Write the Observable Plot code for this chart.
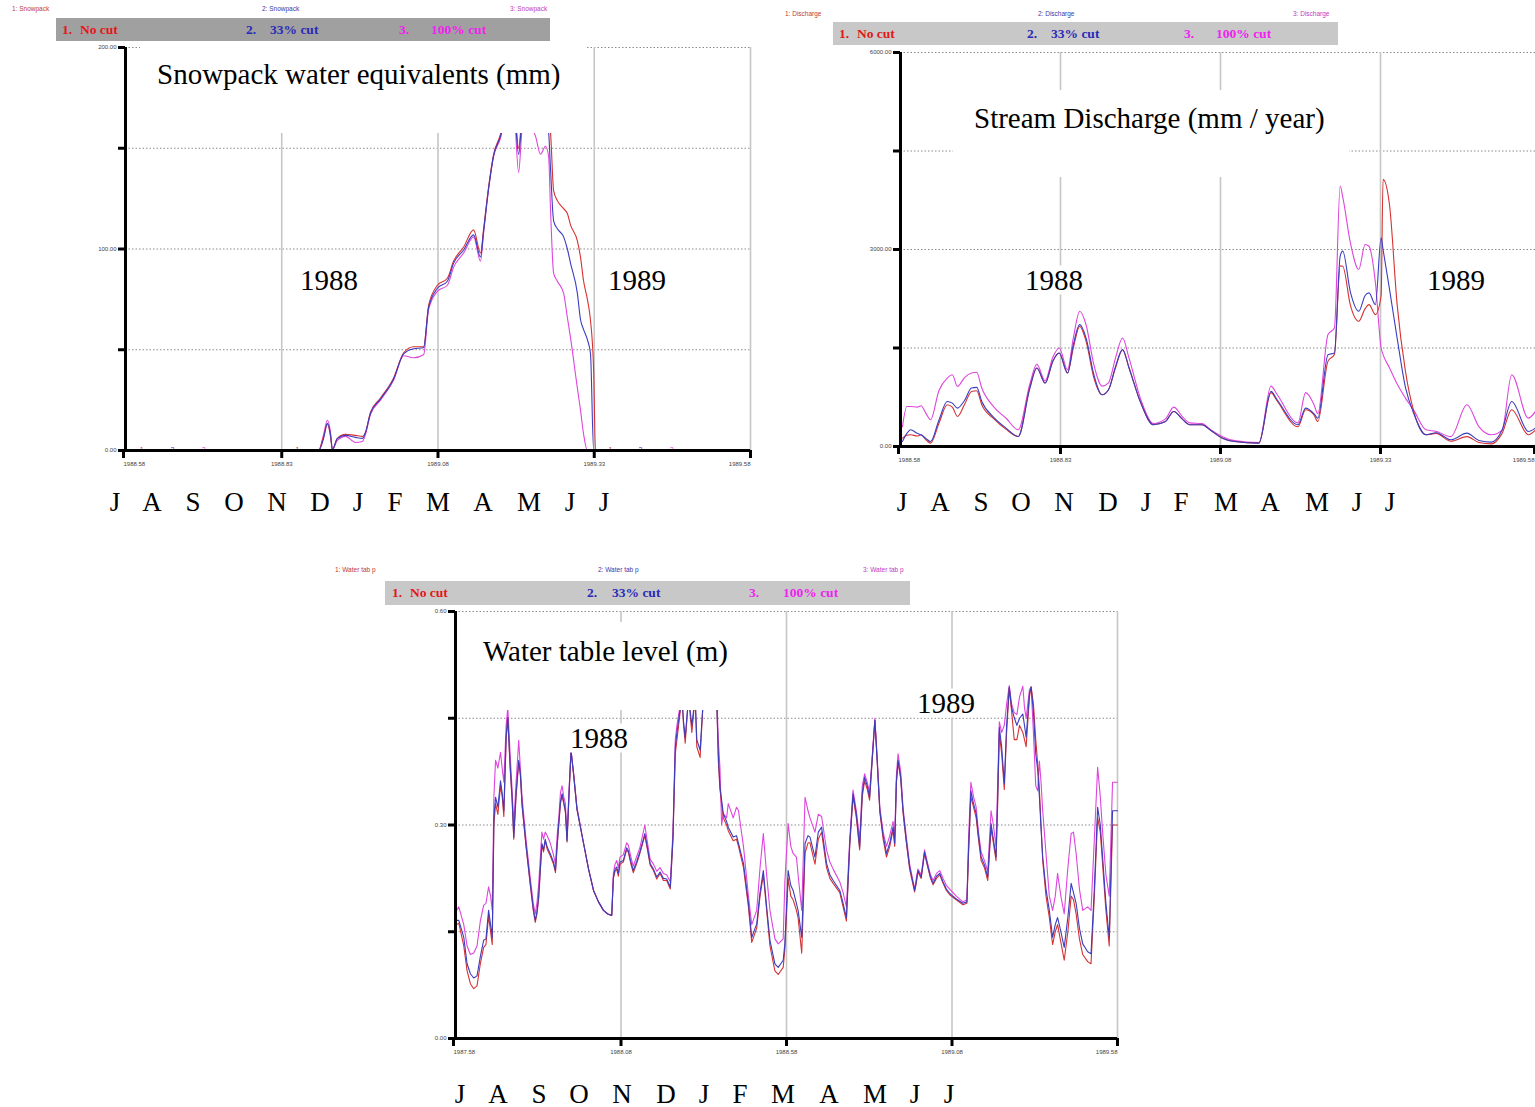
<!DOCTYPE html>
<html><head><meta charset="utf-8">
<script src="https://cdn.jsdelivr.net/npm/d3@7"></script>
<script src="https://cdn.jsdelivr.net/npm/@observablehq/plot@0.6"></script>
<style>
html,body{margin:0;padding:0;background:#fff;overflow:hidden;}
body{width:1535px;height:1107px;position:relative;font-family:"Liberation Serif","Times New Roman",serif;}
.panel{position:absolute;}
.panel svg{max-width:none !important;}
.bar{position:absolute;}
.mini{position:absolute;font-family:"Liberation Sans",Arial,sans-serif;font-size:6.5px;line-height:1;transform:translateY(-50%);white-space:pre;}
.mask{position:absolute;background:#fff;}
.title{position:absolute;font-size:29px;line-height:1;transform:translateY(-50%);white-space:pre;color:#000;}
.year{position:absolute;background:#fff;font-size:29px;line-height:1;transform:translateY(-50%);color:#000;}
.month{position:absolute;font-size:27px;line-height:1;transform:translate(-50%,-50%);color:#000;}
</style></head><body>
<script>
// ---------------- DATA ----------------
const seriesKeys = ["1", "2", "3"];
const legendNums = ["1.", "2.", "3."];
const legendNames = ["No cut", "33% cut", "100% cut"];
const months = ["J","A","S","O","N","D","J","F","M","A","M","J","J"];

// Snowpack water equivalents (mm)
const snowXTicks = [1988.58, 1988.83, 1989.08, 1989.33, 1989.58];
const snowYTicks = [0, 50, 100, 150, 200];
const snowYLabels = [0, 100, 200];
const snowTime = [1988.580,1988.889,1988.897,1988.903,1988.908,1988.911,1988.919,1988.932,1988.948,1988.959,1988.964,1988.972,1988.988,1989.009,1989.025,1989.041,1989.057,1989.065,1989.079,1989.095,1989.105,1989.121,1989.137,1989.148,1989.153,1989.161,1989.169,1989.180,1989.188,1989.201,1989.209,1989.215,1989.225,1989.236,1989.244,1989.252,1989.257,1989.260,1989.265,1989.271,1989.281,1989.287,1989.292,1989.303,1989.308,1989.313,1989.319,1989.324,1989.329,1989.332,1989.580];
const snowNoCut = [0,0,7,13,7,0.5,6,8,7.5,7,9,19,26,36,48.5,51.5,51.5,72,82,85.5,94,101,109.5,98,110,131,147,157,168,174,150,168,176,175,172,170,165,158,129,124,120,117.6,112,104,96,84,75,64.5,40,0,0];
const snow33   = [0,0,6,13.5,8,0.5,6,7.5,6.5,6,9,18.5,25.5,35.5,48,50.5,51,71,80.5,84,93,99.5,107,96,109,130,146.5,156,167,172,147,166,174,172,170,166,158,140,114,110,106,100,93,78,65,60,55,48,0,0,0];
const snow100  = [0,0,8,15,9,0.5,5,7,4,4.5,8,18,25,35,47,46,47.5,70,79,82,91,98,106,94,108,130,146,155,166,170,138,160,162,156,147,151,146,120,88,84,78,66,56,31,20,8,0,0,0,0,0];
const snowMarkTime = [1988.606, 1988.655, 1988.705, 1988.855, 1989.356, 1989.404, 1989.454];
const snowMarkLabel = ["1", "2", "3", "1", "1", "2", "3"];

// Stream discharge (mm / year)
const dischXTicks = [1988.58, 1988.83, 1989.08, 1989.33, 1989.58];
const dischYTicks = [0, 1500, 3000, 4500, 6000];
const dischYLabels = [0, 3000, 6000];
const dischTime = [1988.583,1988.590,1988.596,1988.606,1988.612,1988.620,1988.627,1988.640,1988.653,1988.661,1988.669,1988.680,1988.691,1988.699,1988.707,1988.726,1988.745,1988.764,1988.782,1988.793,1988.806,1988.818,1988.828,1988.841,1988.850,1988.860,1988.870,1988.882,1988.895,1988.905,1988.916,1988.927,1988.937,1988.956,1988.975,1988.994,1989.007,1989.020,1989.032,1989.051,1989.064,1989.083,1989.102,1989.140,1989.159,1989.168,1989.201,1989.213,1989.226,1989.232,1989.248,1989.258,1989.267,1989.271,1989.283,1989.296,1989.306,1989.312,1989.322,1989.331,1989.334,1989.344,1989.356,1989.369,1989.382,1989.401,1989.417,1989.440,1989.465,1989.484,1989.503,1989.520,1989.535,1989.561,1989.572];
const dischNoCut = [127,170,178,160,178,100,51,350,636,600,458,640,839,850,636,420,260,153,900,1195,966,1300,1424,1119,1500,1830,1600,1050,788,864,1200,1475,1200,650,331,380,534,420,331,331,250,127,76,51,820,700,300,560,480,380,1300,1400,2750,2746,2150,1907,2100,2161,2009,2300,4068,3686,2161,1144,534,178,200,80,150,60,40,200,560,180,250];
const disch33   = [76,200,254,200,178,120,76,400,686,660,585,700,890,900,686,440,280,153,880,1195,966,1300,1424,1119,1550,1856,1650,1100,788,864,1220,1475,1200,650,331,380,534,420,331,331,250,127,76,51,839,720,331,585,500,432,1398,1424,2900,2975,2350,2060,2300,2339,2161,3178,3000,2400,1650,900,500,178,210,102,203,90,66,250,686,229,280];
const disch100  = [300,610,610,600,620,500,407,850,1042,1093,915,1050,1119,1130,890,600,430,254,950,1250,1000,1360,1500,1170,1650,2060,1850,1250,920,970,1350,1653,1350,700,350,420,600,460,360,350,260,150,90,60,920,800,360,820,640,500,1704,1805,3966,3800,3100,2695,3076,3050,2500,1500,1400,1200,950,737,550,254,230,150,636,300,178,250,1093,432,534];

// Water table level (m)
const wtXTicks = [1987.58, 1988.08, 1988.58, 1989.08, 1989.58];
const wtYTicks = [0, 0.15, 0.30, 0.45, 0.60];
const wtYLabels = [0, 0.30, 0.60];
const wtTime = [1987.583,1987.590,1987.605,1987.615,1987.625,1987.635,1987.645,1987.655,1987.665,1987.672,1987.680,1987.686,1987.691,1987.696,1987.701,1987.708,1987.716,1987.721,1987.726,1987.733,1987.738,1987.745,1987.751,1987.756,1987.763,1987.771,1987.776,1987.781,1987.793,1987.806,1987.815,1987.821,1987.826,1987.831,1987.841,1987.846,1987.851,1987.857,1987.866,1987.876,1987.882,1987.887,1987.892,1987.897,1987.902,1987.907,1987.912,1987.917,1987.923,1987.929,1987.937,1987.947,1987.967,1987.982,1987.997,1988.012,1988.027,1988.040,1988.052,1988.057,1988.062,1988.067,1988.072,1988.077,1988.087,1988.097,1988.102,1988.110,1988.117,1988.127,1988.137,1988.152,1988.160,1988.168,1988.178,1988.188,1988.198,1988.208,1988.218,1988.229,1988.237,1988.244,1988.249,1988.254,1988.264,1988.269,1988.274,1988.284,1988.294,1988.304,1988.309,1988.319,1988.329,1988.349,1988.369,1988.374,1988.379,1988.384,1988.389,1988.399,1988.404,1988.419,1988.429,1988.435,1988.450,1988.465,1988.475,1988.490,1988.500,1988.510,1988.520,1988.530,1988.545,1988.555,1988.570,1988.575,1988.585,1988.593,1988.600,1988.610,1988.615,1988.626,1988.636,1988.645,1988.651,1988.666,1988.676,1988.686,1988.701,1988.711,1988.721,1988.741,1988.751,1988.761,1988.771,1988.781,1988.791,1988.801,1988.809,1988.816,1988.824,1988.831,1988.847,1988.854,1988.862,1988.872,1988.882,1988.892,1988.902,1988.907,1988.912,1988.917,1988.925,1988.932,1988.942,1988.952,1988.967,1988.972,1988.977,1988.987,1988.997,1989.007,1989.015,1989.023,1989.033,1989.043,1989.053,1989.063,1989.073,1989.093,1989.113,1989.125,1989.130,1989.137,1989.145,1989.153,1989.160,1989.168,1989.178,1989.188,1989.198,1989.205,1989.213,1989.218,1989.223,1989.230,1989.238,1989.245,1989.253,1989.260,1989.268,1989.276,1989.284,1989.294,1989.299,1989.304,1989.314,1989.319,1989.326,1989.333,1989.339,1989.344,1989.349,1989.354,1989.364,1989.374,1989.384,1989.392,1989.399,1989.409,1989.419,1989.430,1989.440,1989.447,1989.455,1989.465,1989.475,1989.490,1989.500,1989.510,1989.520,1989.528,1989.535,1989.545,1989.555,1989.565,1989.580];
const wtNoCut = [.160,.162,.130,.095,.077,.070,.074,.105,.128,.132,.172,.150,.132,.300,.330,.315,.355,.340,.312,.420,.451,.380,.335,.280,.340,.388,.370,.328,.270,.215,.180,.163,.175,.195,.272,.262,.278,.266,.257,.245,.233,.270,.300,.330,.342,.330,.318,.276,.340,.405,.370,.322,.274,.238,.208,.192,.180,.175,.173,.225,.235,.238,.228,.245,.248,.265,.262,.245,.233,.245,.260,.285,.265,.244,.236,.224,.232,.222,.222,.210,.280,.400,.420,.440,.480,.440,.415,.480,.430,.480,.410,.395,.480,.490,.480,.390,.350,.330,.310,.300,.292,.278,.280,.270,.240,.185,.135,.155,.200,.230,.180,.130,.095,.090,.100,.125,.225,.200,.195,.180,.170,.120,.260,.275,.275,.245,.280,.290,.240,.225,.218,.205,.185,.165,.270,.340,.310,.265,.340,.362,.350,.335,.447,.390,.318,.280,.255,.270,.293,.270,.360,.388,.365,.318,.275,.238,.206,.218,.234,.225,.260,.240,.225,.216,.225,.230,.218,.208,.202,.195,.188,.190,.260,.340,.325,.310,.280,.250,.240,.222,.295,.275,.250,.330,.430,.400,.350,.430,.492,.460,.420,.420,.440,.430,.420,.410,.480,.494,.470,.420,.385,.350,.300,.250,.200,.170,.132,.150,.160,.135,.110,.150,.200,.195,.175,.140,.118,.108,.105,.200,.310,.290,.245,.180,.130,.300,.300];
const wt33 = [.166,.166,.142,.105,.091,.085,.088,.115,.138,.140,.180,.160,.142,.310,.339,.325,.362,.345,.320,.425,.451,.385,.339,.283,.345,.391,.372,.330,.272,.218,.182,.166,.178,.198,.274,.265,.280,.269,.260,.248,.236,.272,.302,.332,.344,.332,.320,.278,.345,.405,.370,.322,.274,.238,.208,.192,.180,.175,.173,.227,.238,.241,.232,.248,.250,.268,.264,.248,.236,.248,.262,.288,.268,.246,.238,.227,.234,.225,.224,.213,.283,.409,.430,.447,.480,.445,.423,.480,.440,.480,.420,.405,.480,.490,.480,.400,.353,.335,.316,.305,.297,.283,.285,.274,.246,.190,.142,.161,.205,.236,.185,.138,.105,.100,.110,.133,.236,.215,.208,.190,.180,.142,.274,.285,.283,.255,.290,.297,.246,.230,.222,.208,.190,.170,.274,.344,.315,.269,.345,.367,.355,.339,.447,.390,.320,.285,.260,.275,.297,.274,.360,.391,.368,.320,.278,.241,.208,.220,.236,.227,.262,.242,.227,.218,.228,.232,.220,.210,.204,.196,.190,.192,.265,.348,.330,.316,.285,.255,.244,.227,.302,.280,.255,.340,.437,.410,.358,.440,.494,.465,.451,.440,.450,.456,.440,.423,.485,.494,.460,.400,.377,.340,.295,.255,.210,.180,.142,.160,.170,.150,.128,.170,.218,.205,.190,.155,.133,.122,.119,.210,.325,.300,.255,.190,.142,.320,.320];
const wt100 = [.180,.185,.160,.130,.118,.120,.130,.165,.187,.190,.213,.200,.180,.340,.391,.380,.402,.380,.360,.440,.465,.400,.350,.300,.360,.419,.380,.340,.280,.225,.190,.175,.190,.215,.290,.280,.290,.285,.275,.258,.245,.285,.310,.345,.355,.340,.330,.285,.350,.405,.372,.325,.274,.238,.208,.192,.180,.175,.173,.232,.245,.250,.240,.255,.258,.275,.272,.255,.242,.255,.268,.300,.275,.252,.245,.235,.240,.232,.230,.220,.290,.420,.440,.455,.480,.475,.465,.485,.475,.485,.465,.475,.485,.490,.485,.420,.380,.300,.316,.310,.330,.310,.325,.320,.270,.200,.160,.180,.240,.288,.230,.180,.140,.133,.140,.220,.302,.270,.260,.255,.230,.180,.339,.320,.310,.290,.315,.312,.265,.248,.238,.220,.205,.185,.280,.349,.320,.280,.355,.372,.360,.345,.450,.395,.325,.290,.270,.285,.305,.285,.370,.400,.375,.325,.283,.245,.210,.225,.238,.230,.265,.245,.230,.222,.232,.236,.225,.215,.210,.200,.192,.195,.280,.360,.340,.325,.290,.262,.250,.235,.320,.300,.270,.360,.445,.430,.440,.470,.496,.470,.458,.455,.480,.495,.465,.450,.490,.494,.430,.355,.348,.390,.360,.320,.260,.200,.180,.200,.232,.200,.175,.240,.288,.290,.260,.210,.180,.185,.180,.280,.381,.340,.290,.230,.200,.360,.360];

// ---------------- LAYOUT / STYLE ----------------
const palette = {"1": "#d63232", "2": "#3b3dbf", "3": "#de45de"};
const barText = {"1": "#e01818", "2": "#2a2ab8", "3": "#f022f0"};
const miniText = {"1": "#c03a3a", "2": "#3a3aa8", "3": "#c03ac0"};

function el(cls, style, text, parent) {
  const d = document.createElement("div");
  if (cls) d.className = cls;
  Object.assign(d.style, style);
  if (text != null) d.textContent = text;
  (parent || document.body).appendChild(d);
  return d;
}

function drawPanel(c) {
  const rows = [];
  seriesKeys.forEach((k, j) => c.time.forEach((t, i) => rows.push({t, v: c.values[j][i], k})));
  const order = ["3", "1", "2"];
  const lines = order.map(k => Plot.line(rows.filter(r => r.k === k), {
    x: "t", y: "v", stroke: palette[k], strokeWidth: 1.1, curve: c.curve
  }));
  const xt = c.xTicks;
  const axOpts = {tickSize: 8, strokeWidth: 3, tickPadding: 3, tickFormat: d3.format(".2f"), fontSize: 6, fill: "#444", label: null};
  const svg = Plot.plot({
    width: c.width, height: c.height,
    marginLeft: c.mL, marginRight: c.mR, marginTop: c.mT, marginBottom: c.mB,
    x: {type: "linear", domain: c.xDomain, label: null},
    y: {type: "linear", domain: c.yDomain, label: null},
    style: {background: "transparent", overflow: "visible", fontFamily: "Liberation Sans, Arial, sans-serif", fontSize: "6px"},
    marks: [
      Plot.ruleY(c.yTicks.slice(1), {stroke: "#8c8c8c", strokeWidth: 1, strokeDasharray: "1.5,2"}),
      Plot.ruleX(xt.slice(1), {stroke: "#c6c6c6", strokeWidth: 1.6}),
      ...lines,
      ...(c.extra || []),
      Plot.ruleY([c.yDomain[0]], {stroke: "#000", strokeWidth: 3}),
      Plot.ruleX([c.xDomain[0]], {stroke: "#000", strokeWidth: 3}),
      Plot.axisX({...axOpts, ticks: [xt[0]], textAnchor: "start", dx: -2}),
      Plot.axisX({...axOpts, ticks: xt.slice(1, -1), textAnchor: "middle"}),
      Plot.axisX({...axOpts, ticks: [xt[xt.length - 1]], textAnchor: "end", dx: c.lastDx || 0}),
      Plot.axisY({ticks: c.yTicks, tickSize: 7, strokeWidth: 3, tickPadding: 2, label: null,
        tickFormat: d => c.yLabels.includes(d) ? d3.format(".2f")(d) : "", fontSize: 6, fill: "#444"})
    ]
  });
  const holder = el("panel", {left: c.left + "px", top: c.top + "px", width: c.width + "px", height: c.height + "px"});
  holder.appendChild(svg);
}

function header(h) {
  seriesKeys.forEach((k, j) => {
    el("mini", {left: h.miniX[j] + "px", top: h.miniY + "px", color: miniText[k]}, k + ": " + h.miniName);
  });
  const bar = el("bar", {left: h.bar[0] + "px", top: h.bar[1] + "px", width: h.bar[2] + "px", height: h.bar[3] + "px", background: h.barColor});
  seriesKeys.forEach((k, j) => {
    el(null, {left: (h.numX[j] - h.bar[0]) + "px", color: barText[k]}, legendNums[j], bar);
    el(null, {left: (h.nameX[j] - h.bar[0]) + "px", color: barText[k]}, legendNames[j], bar);
  });
  bar.querySelectorAll("div").forEach(d => {
    Object.assign(d.style, {position: "absolute", top: "50%", transform: "translateY(-50%)", fontWeight: "bold", fontSize: "13.5px", whiteSpace: "pre", lineHeight: "1"});
  });
}

function annotate(a) {
  el("mask", {left: a.mask[0] + "px", top: a.mask[1] + "px", width: a.mask[2] + "px", height: a.mask[3] + "px"});
  el("title", {left: a.titleX + "px", top: a.titleY + "px"}, a.title);
  a.years.forEach(y => el("year", {left: y[1] + "px", top: y[2] + "px"}, y[0]));
  months.forEach((m, i) => el("month", {left: a.monthX[i] + "px", top: a.monthY + "px"}, m));
}

// Panel 1: Snowpack
drawPanel({
  left: 85, top: 40, width: 680, height: 440, mL: 40, mR: 15, mT: 7, mB: 30,
  xDomain: [1988.58, 1989.58], yDomain: [0, 200],
  xTicks: snowXTicks, yTicks: snowYTicks, yLabels: snowYLabels,
  time: snowTime, values: [snowNoCut, snow33, snow100], curve: "monotone-x",
  extra: [Plot.text(snowMarkTime, {x: d => d, y: 0, text: (d, i) => snowMarkLabel[i],
    fill: (d, i) => palette[snowMarkLabel[i]], fontSize: 7, stroke: "white", strokeWidth: 2, dy: -1})]
});
header({miniName: "Snowpack", miniX: [12, 262, 510], miniY: 9,
  bar: [56, 18, 494, 23], barColor: "#a0a0a0", numX: [62, 246, 399], nameX: [80, 270, 431]});
annotate({mask: [140, 44, 445, 89], title: "Snowpack water equivalents (mm)", titleX: 157, titleY: 74,
  years: [["1988", 300, 280], ["1989", 608, 280]],
  monthX: [115, 152, 193, 234, 277, 320, 358, 395, 438, 483, 529, 570, 604], monthY: 502});

// Panel 2: Discharge
drawPanel({
  left: 855, top: 45, width: 705, height: 430, mL: 45, mR: 20, mT: 7, mB: 29,
  xDomain: [1988.58, 1989.58], yDomain: [0, 6000],
  xTicks: dischXTicks, yTicks: dischYTicks, yLabels: dischYLabels, lastDx: -6,
  time: dischTime, values: [dischNoCut, disch33, disch100], curve: "monotone-x"
});
header({miniName: "Discharge", miniX: [785, 1038, 1293], miniY: 14,
  bar: [833, 22, 505, 23], barColor: "#c8c8c8", numX: [839, 1027, 1184], nameX: [857, 1051, 1216]});
annotate({mask: [953, 90, 396, 87], title: "Stream Discharge (mm / year)", titleX: 974, titleY: 118,
  years: [["1988", 1025, 280], ["1989", 1427, 280]],
  monthX: [902, 940, 981, 1021, 1064, 1108, 1146, 1181, 1226, 1270, 1317, 1357, 1390], monthY: 502});

// Panel 3: Water table
drawPanel({
  left: 410, top: 605, width: 725, height: 460, mL: 45, mR: 18, mT: 6, mB: 27,
  xDomain: [1987.58, 1989.58], yDomain: [0, 0.6],
  xTicks: wtXTicks, yTicks: wtYTicks, yLabels: wtYLabels,
  time: wtTime, values: [wtNoCut, wt33, wt100], curve: "linear"
});
header({miniName: "Water tab p", miniX: [335, 598, 863], miniY: 570,
  bar: [385, 581, 525, 24], barColor: "#c8c8c8", numX: [392, 587, 749], nameX: [410, 612, 783]});
annotate({mask: [475, 622, 265, 88], title: "Water table level (m)", titleX: 483, titleY: 651,
  years: [["1988", 570, 738], ["1989", 917, 703]],
  monthX: [460, 498, 539, 579, 622, 666, 704, 740, 783, 829, 875, 915, 949], monthY: 1094});
</script>
</body></html>
